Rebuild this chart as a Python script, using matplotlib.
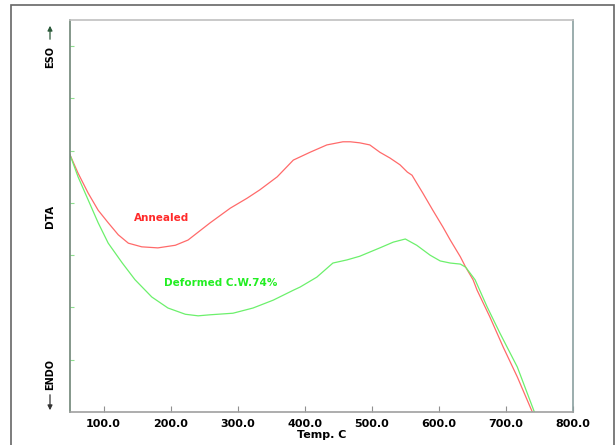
import numpy as np
import matplotlib
matplotlib.use("Agg")
import matplotlib.pyplot as plt
from matplotlib.patches import Rectangle, FancyArrowPatch

out_file = 'out.png'

# Annealed curve (temperature C, DTA signal in arbitrary units)
annealed_t = [50, 62, 77, 92, 107, 122, 137, 157, 181, 207, 226, 241, 259,
              289, 314, 333, 359, 383, 408, 433, 457, 468, 482, 497, 512, 527,
              542, 553, 560, 567, 576, 591, 606, 617, 632, 640, 651, 657, 676,
              696, 717, 740]
annealed_y = [4.92, 4.57, 4.19, 3.86, 3.62, 3.39, 3.23, 3.16, 3.14, 3.19, 3.29,
              3.44, 3.62, 3.90, 4.09, 4.25, 4.50, 4.82, 4.97, 5.11, 5.17, 5.17,
              5.15, 5.11, 4.97, 4.86, 4.73, 4.59, 4.53, 4.38, 4.19, 3.86, 3.54,
              3.29, 2.97, 2.77, 2.53, 2.33, 1.82, 1.24, 0.67, -0.02]

# Deformed C.W.74% curve
deformed_t = [50, 62, 77, 92, 107, 128, 147, 172, 196, 222, 241, 259, 293,
              323, 353, 383, 393, 418, 442, 463, 482, 512, 532, 550, 567, 587,
              602, 617, 632, 640, 654, 672, 691, 717, 743]
deformed_y = [4.92, 4.50, 4.06, 3.62, 3.23, 2.85, 2.53, 2.20, 1.99, 1.87, 1.84,
              1.86, 1.89, 1.99, 2.14, 2.33, 2.39, 2.58, 2.85, 2.91, 2.98, 3.14,
              3.25, 3.31, 3.19, 3.00, 2.89, 2.85, 2.83, 2.77, 2.53, 2.01, 1.51,
              0.86, -0.02]

x_ticks = [100, 200, 300, 400, 500, 600, 700, 800]
x_labels = ['%.1f' % t for t in x_ticks]
y_ticks = [1, 2, 3, 4, 5, 6, 7]


def make_graph(path):
	fig = plt.figure(figsize=(6.16, 4.45), dpi=100)
	W, H = 616.0, 445.0
	ax = fig.add_axes([70 / W, 1 - 412 / H, 503 / W, 392 / H])

	ax.plot(annealed_t, annealed_y, color='#ff6a6a', lw=0.9)
	ax.plot(deformed_t, deformed_y, color='#6cf06c', lw=0.9)

	ax.set_xlim(50, 800)
	ax.set_ylim(0, 7.5)
	ax.set_xticks(x_ticks)
	ax.set_xticklabels(x_labels, fontsize=8, fontweight='bold')
	ax.set_yticks(y_ticks)
	ax.set_yticklabels([])
	ax.tick_params(axis='x', direction='in', length=4, color='#909090', pad=5)
	ax.tick_params(axis='y', direction='in', length=3, color='#8ee08e')
	ax.set_xlabel('Temp. C', fontsize=8, fontweight='bold', labelpad=1)

	ax.spines['left'].set_color('#6f8577')
	ax.spines['bottom'].set_color('#a0a0a0')
	ax.spines['right'].set_color('#8aa0a0')
	ax.spines['top'].set_color('#c0c0c0')
	for s in ax.spines.values():
		s.set_linewidth(1.2)

	ax.text(187, 3.71, 'Annealed', color='#ff2a2a', fontsize=7.5,
		fontweight='bold', ha='center', va='center')
	ax.text(274, 2.47, 'Deformed C.W.74%', color='#22ee22', fontsize=7.5,
		fontweight='bold', ha='center', va='center')

	# rotated axis captions on the left
	fig.text(50 / W, 1 - 216 / H, 'DTA', rotation=90, fontsize=7.5,
		fontweight='bold', ha='center', va='center')
	fig.text(50 / W, 1 - 57 / H, 'ESO', rotation=90, fontsize=7,
		fontweight='bold', ha='center', va='center')
	fig.text(50 / W, 1 - 375 / H, 'ENDO', rotation=90, fontsize=7,
		fontweight='bold', ha='center', va='center')
	fig.add_artist(FancyArrowPatch(
		(50 / W, 1 - 42 / H), (50 / W, 1 - 23 / H), transform=fig.transFigure,
		arrowstyle='-|>', mutation_scale=7, color='#2b5a3a', lw=0.9))
	fig.add_artist(FancyArrowPatch(
		(50 / W, 1 - 392 / H), (50 / W, 1 - 413 / H), transform=fig.transFigure,
		arrowstyle='-|>', mutation_scale=7, color='#333333', lw=0.9))

	# outer frame (bottom edge is cut off)
	fig.add_artist(Rectangle((11 / W, -0.05), 603 / W, 1.05 - 5 / H,
		transform=fig.transFigure, fill=False, edgecolor='#666666', lw=1.2))

	fig.savefig(path, dpi=100)


def main():
	make_graph(out_file)


if __name__ == "__main__":
	main()
